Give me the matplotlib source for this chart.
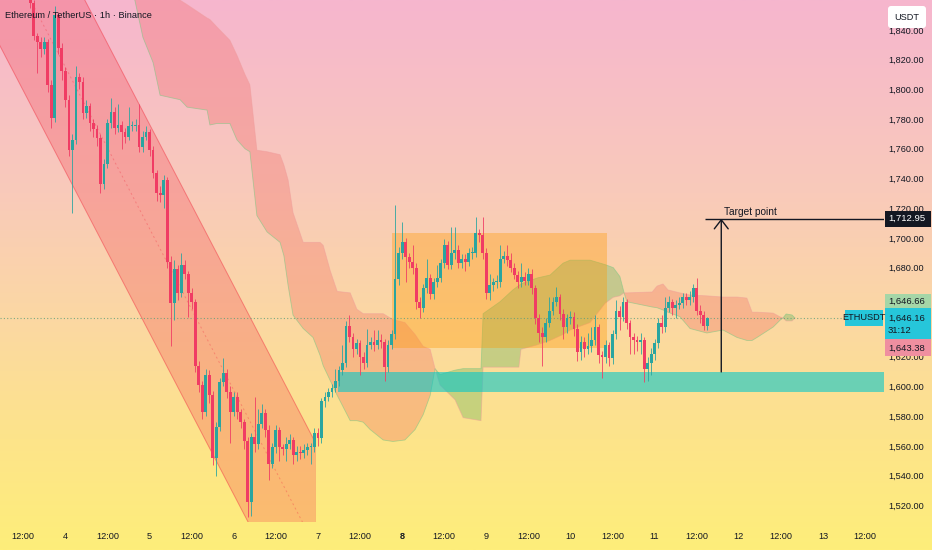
import numpy as np
import matplotlib
matplotlib.use('Agg')
import matplotlib.pyplot as plt
from matplotlib.patches import Rectangle, FancyBboxPatch, Polygon
from matplotlib.colors import LinearSegmentedColormap

plt.rcParams['font.family'] = ['Liberation Sans', 'DejaVu Sans']

TITLE = 'Ethereum / TetherUS · 1h · Binance'

# hourly candles, hour 0 = day 4 00:00
start_hour = -10
first_open = 1861
closes = [1858, 1836, 1832, 1827, 1832, 1803, 1781, 1850, 1828, 1812,
          1793, 1759, 1766, 1808, 1805, 1784, 1789, 1777, 1773, 1767,
          1736, 1750, 1777, 1785, 1774, 1776, 1771, 1768, 1775, 1775,
          1776, 1761, 1768, 1771, 1759, 1744, 1730, 1729, 1739, 1684,
          1656, 1679, 1663, 1682, 1676, 1663, 1657, 1614, 1601, 1583,
          1608, 1594, 1552, 1573, 1603, 1609, 1596, 1583, 1593, 1583,
          1576, 1563, 1522, 1566, 1561, 1575, 1582, 1571, 1548, 1559,
          1571, 1559, 1558, 1561, 1564, 1554, 1556, 1555, 1557, 1559,
          1559, 1569, 1565, 1590, 1593, 1596, 1599, 1604, 1611, 1616,
          1641, 1633, 1625, 1629, 1620, 1616, 1628, 1630, 1628, 1631,
          1630, 1613, 1628, 1635, 1672, 1690, 1697, 1687, 1684, 1680,
          1657, 1653, 1666, 1673, 1662, 1670, 1673, 1683, 1695, 1682,
          1690, 1692, 1683, 1686, 1684, 1690, 1690, 1703, 1702, 1690,
          1663, 1668, 1670, 1670, 1686, 1688, 1685, 1680, 1675, 1670,
          1674, 1671, 1676, 1666, 1646, 1636, 1633, 1643, 1651, 1657,
          1660, 1649, 1640, 1646, 1647, 1639, 1623, 1630, 1625, 1627,
          1631, 1640, 1621, 1620, 1628, 1619, 1635, 1651, 1647, 1657,
          1643, 1633, 1631, 1630, 1631, 1612, 1616, 1622, 1629, 1643,
          1640, 1653, 1657, 1653, 1655, 1656, 1660, 1658, 1660, 1666,
          1651, 1648, 1641, 1646.16]
highs = [1864, 1860, 1838, 1835, 1835, 1834, 1806, 1856, 1852, 1831,
         1815, 1796, 1770, 1816, 1811, 1808, 1793, 1791, 1780, 1776,
         1770, 1753, 1780, 1794, 1788, 1790, 1779, 1774, 1788, 1779,
         1780, 1790, 1772, 1775, 1773, 1762, 1746, 1735, 1742, 1741,
         1688, 1685, 1682, 1690, 1685, 1678, 1666, 1659, 1617, 1604,
         1612, 1611, 1597, 1576, 1606, 1619, 1612, 1600, 1596, 1596,
         1585, 1578, 1566, 1569, 1593, 1585, 1588, 1585, 1574, 1562,
         1574, 1573, 1561, 1566, 1568, 1566, 1560, 1560, 1561, 1562,
         1562, 1572, 1572, 1592, 1596, 1599, 1602, 1612, 1614, 1628,
         1644, 1648, 1636, 1632, 1631, 1623, 1639, 1633, 1638, 1638,
         1635, 1632, 1631, 1638, 1722, 1694, 1711, 1700, 1690, 1695,
         1683, 1660, 1669, 1686, 1676, 1673, 1682, 1686, 1699, 1698,
         1707, 1707, 1695, 1689, 1689, 1693, 1694, 1714, 1706, 1714,
         1693, 1676, 1673, 1675, 1695, 1691, 1695, 1690, 1683, 1678,
         1683, 1677, 1680, 1679, 1668, 1649, 1640, 1646, 1660, 1660,
         1667, 1662, 1652, 1649, 1651, 1650, 1642, 1634, 1633, 1636,
         1640, 1648, 1642, 1624, 1631, 1630, 1638, 1658, 1654, 1660,
         1659, 1645, 1636, 1634, 1636, 1633, 1620, 1626, 1632, 1646,
         1648, 1660, 1661, 1659, 1658, 1660, 1663, 1663, 1664, 1669,
         1673, 1655, 1651, 1646.66]
lows = [1855, 1833, 1811, 1822, 1824, 1798, 1774, 1778, 1824, 1806,
        1788, 1755, 1717, 1763, 1800, 1780, 1781, 1772, 1768, 1762,
        1730, 1733, 1747, 1774, 1770, 1771, 1760, 1764, 1766, 1772,
        1772, 1758, 1758, 1766, 1755, 1740, 1725, 1724, 1720, 1680,
        1627, 1645, 1658, 1660, 1672, 1647, 1652, 1610, 1596, 1578,
        1580, 1589, 1547, 1540, 1570, 1600, 1592, 1562, 1580, 1578,
        1572, 1558, 1512, 1513, 1556, 1558, 1572, 1566, 1537, 1545,
        1555, 1550, 1554, 1550, 1558, 1548, 1550, 1551, 1552, 1554,
        1548, 1556, 1560, 1562, 1586, 1590, 1593, 1596, 1600, 1608,
        1613, 1630, 1620, 1622, 1608, 1612, 1613, 1625, 1624, 1625,
        1626, 1604, 1610, 1625, 1632, 1668, 1686, 1670, 1680, 1676,
        1652, 1646, 1650, 1663, 1659, 1659, 1667, 1670, 1680, 1679,
        1679, 1686, 1680, 1680, 1678, 1681, 1686, 1687, 1697, 1686,
        1659, 1658, 1664, 1666, 1667, 1683, 1681, 1677, 1672, 1666,
        1667, 1668, 1668, 1662, 1642, 1630, 1614, 1630, 1640, 1648,
        1654, 1645, 1632, 1636, 1642, 1634, 1617, 1618, 1620, 1622,
        1623, 1628, 1616, 1606, 1616, 1614, 1615, 1632, 1638, 1644,
        1639, 1622, 1622, 1624, 1622, 1603, 1604, 1608, 1618, 1626,
        1636, 1637, 1650, 1648, 1646, 1652, 1653, 1655, 1655, 1657,
        1648, 1643, 1638, 1638]

# ichimoku cloud edges (hours, span A, span B)
cloud_h = [9.9, 19.8, 22.1, 25.0, 27.0, 32.7, 34.7, 40.4, 41.2, 43.2, 46.9, 48.9,
           51.2, 52.6, 54.6, 57.5, 61.2, 62.3, 63.5, 64.9, 67.8, 70.6, 72.6, 73.5,
           75.5, 77.5, 81.2, 83.1, 84.9, 86.9, 90.6, 93.4, 96.8, 99.7, 102.0, 104.0,
           105.4, 106.8, 111.1, 113.4, 118.5, 119.1, 123.9, 127.6, 129.3, 129.9,
           134.5, 138.2, 141.9, 143.9, 149.6, 153.9, 156.2, 158.1, 159.3, 160.1,
           167.3, 168.7, 170.4, 171.8, 175.2, 178.1, 182.9, 187.5, 191.5, 194.3,
           195.8, 197.2, 201.8, 203.8, 204.6, 205.5, 207.2, 208.0]
span_a = [1887, 1860, 1835, 1818, 1796, 1793, 1788, 1786, 1776, 1777, 1777, 1766,
          1760, 1758, 1715, 1704, 1697, 1688, 1668, 1648, 1639, 1633, 1621, 1614,
          1604, 1594, 1577, 1577, 1576, 1571, 1564, 1563, 1564, 1571, 1581, 1594,
          1612, 1608, 1611, 1612, 1612, 1649, 1657, 1665, 1668, 1669,
          1673, 1675, 1683, 1685, 1685, 1682, 1680, 1674, 1663, 1657,
          1653.5, 1653, 1651.5, 1650, 1647, 1639, 1636, 1638, 1633, 1631,
          1631, 1633, 1640, 1644.7, 1646.1, 1648.8, 1648.1, 1646.1]
span_b = [1921, 1887, 1880, 1874, 1867, 1860, 1857, 1848, 1847, 1842, 1833, 1823,
          1810, 1803, 1759, 1758, 1756, 1749, 1739, 1717, 1697, 1697, 1697, 1695,
          1678, 1664, 1663, 1652, 1649, 1649, 1649, 1645, 1643, 1635, 1627, 1625,
          1612, 1601, 1591, 1579, 1577, 1613, 1613, 1613, 1613, 1625,
          1628, 1631, 1635, 1638, 1643, 1656, 1660, 1661, 1663, 1663,
          1663.6, 1667.6, 1669, 1665, 1663, 1661.6, 1661, 1660.2, 1660.2, 1659.5,
          1650, 1650, 1649.4, 1646.8, 1646.1, 1644.1, 1644.1, 1646.1]

# descending channel: upper line endpoints and vertical width
channel_h = [-30, 71.2]
channel_top = [2021, 1562.6]
channel_width = 140.4

box_h = [93.2, 154.3]
box_p = [1625.9, 1703.3]
zone_start = 77.6
zone_p = [1596.3, 1609.8]

target_price = 1712.95
target_h = 187.0
target_line_start = 182.4
last_price = 1646.16
upper_label = 1646.66
lower_label = 1643.38
countdown = '31:12'

price_ticks = list(range(1520, 1841, 20))
hidden_ticks = [1640, 1660]  # covered by the price labels
time_ticks = list(range(-12, 229, 12))
time_labels = ['12:00', '4', '12:00', '5', '12:00', '6', '12:00', '7', '12:00', '8',
               '12:00', '9', '12:00', '10', '12:00', '11', '12:00', '12', '12:00', '13', '12:00']

W, H = 932, 550
fig = plt.figure(figsize=(W / 100, H / 100), dpi=100)

# background gradient
bg = fig.add_axes([0, 0, 1, 1], zorder=-5)
grad = LinearSegmentedColormap.from_list('bg', [
    (0.0, (246/255, 182/255, 206/255)),
    (0.35, (249/255, 202/255, 186/255)),
    (0.55, (251/255, 214/255, 166/255)),
    (0.8, (253/255, 228/255, 138/255)),
    (1.0, (254/255, 238/255, 122/255))])
bg.imshow(np.linspace(0, 1, 256).reshape(-1, 1), aspect='auto', cmap=grad,
          extent=[0, 1, 0, 1])
bg.axis('off')

ax = fig.add_axes([0, 28 / H, 884 / W, 522 / H])
ax.set_facecolor('none')
x_min, x_max = -18.65, 233.4
ax.set_xlim(x_min, x_max)
ax.set_ylim(1508.8, 1860.1)
for s in ax.spines.values():
    s.set_visible(False)

# channel
poly = [(channel_h[0], channel_top[0]), (channel_h[1], channel_top[1]),
        (channel_h[1], channel_top[1] - channel_width),
        (channel_h[0], channel_top[0] - channel_width)]
ax.add_patch(Polygon(poly, closed=True, facecolor='#f23645', alpha=0.26, lw=0, zorder=1))
ax.plot(channel_h, channel_top, color='#f23645', lw=0.7, alpha=0.5, zorder=1.2)
ax.plot(channel_h, [p - channel_width for p in channel_top], color='#f23645', lw=0.7,
        alpha=0.5, zorder=1.2)
ax.plot([channel_h[1], channel_h[1]], [channel_top[1], channel_top[1] - channel_width],
        color='#f23645', lw=0.7, alpha=0.25, zorder=1.2)
ax.plot(channel_h, [p - channel_width / 2 for p in channel_top], color='#f23645', lw=0.7,
        alpha=0.35, ls=(0, (2, 3)), zorder=1.2)

# ichimoku cloud
ch = np.array(cloud_h)
sa = np.array(span_a)
sb = np.array(span_b)
ax.fill_between(ch, sa, sb, where=sa >= sb, interpolate=True, color='#4caf50',
                alpha=0.3, lw=0, zorder=1.5)
ax.fill_between(ch, sa, sb, where=sa <= sb, interpolate=True, color='#ef5350',
                alpha=0.26, lw=0, zorder=1.5)
ax.plot(ch, sa, color='#81c784', lw=0.6, alpha=0.6, zorder=1.6)
ax.plot(ch, sb, color='#ef9a9a', lw=0.6, alpha=0.5, zorder=1.6)

# rectangles
ax.add_patch(Rectangle((box_h[0], box_p[0]), box_h[1] - box_h[0], box_p[1] - box_p[0],
                       facecolor='#ff9800', alpha=0.35, lw=0, zorder=2))
ax.add_patch(Rectangle((zone_start, zone_p[0]), x_max - zone_start, zone_p[1] - zone_p[0],
                       facecolor='#00c7cc', alpha=0.58, lw=0, zorder=2.1))

# last price dotted line
ax.axhline(last_price, color='#5f9f7a', lw=0.8, ls=(0, (1, 2)), alpha=0.8, zorder=2.5)

# candles
closes_a = np.array(closes, dtype=float)
opens_a = np.array([first_open] + closes[:-1], dtype=float)
hours = start_hour + np.arange(len(closes))
up = closes_a >= opens_a
cols = np.where(up, '#2aa5a0', '#f03c64')
ax.vlines(hours, lows, highs, colors=cols, lw=0.7, alpha=0.85, zorder=3)
bottoms = np.minimum(opens_a, closes_a)
heights = np.maximum(np.abs(closes_a - opens_a), 0.8)
ax.bar(hours, heights, bottom=bottoms, width=0.8, color=cols, lw=0, zorder=3.1)

# target
ax.hlines(target_price, target_line_start, x_max, color='#131722', lw=1, zorder=4)
ax.annotate('', xy=(target_h, target_price), xytext=(target_h, zone_p[1]),
            arrowprops=dict(arrowstyle='->,head_length=0.65,head_width=0.5',
                            color='#131722', lw=1, shrinkA=0, shrinkB=0), zorder=4)
ax.text(target_h + 0.7, target_price + 1.2, 'Target point', fontsize=7.3,
        color='#131722', va='bottom', ha='left', zorder=4)

# axes ticks
ax.yaxis.tick_right()
ax.set_yticks(price_ticks)
ax.set_yticklabels(['' if v in hidden_ticks else f'{v:,.2f}' for v in price_ticks])
ax.tick_params(axis='y', length=0, pad=3, labelsize=6.6, labelcolor='#131722')
ax.set_xticks(time_ticks)
ax.set_xticklabels(time_labels)
ax.tick_params(axis='x', length=0, pad=7.5, labelsize=6.6, labelcolor='#131722')
for lab in ax.get_xticklabels():
    if lab.get_text() == '8':
        lab.set_fontweight('bold')

# overlay in pixel coordinates for axis labels
ov = fig.add_axes([0, 0, 1, 1], zorder=10)
ov.set_xlim(0, W)
ov.set_ylim(H, 0)
ov.axis('off')


def py(p):
    return H - ax.transData.transform((0, p))[1]


ov.text(5, 15, TITLE, fontsize=6.7, color='#131722', va='center', ha='left')

ov.add_patch(FancyBboxPatch((888, 6), 38, 22, boxstyle='round,pad=0,rounding_size=3',
                            facecolor='white', edgecolor='none'))
ov.text(907, 17, 'USDT', fontsize=6.6, color='#131722', va='center', ha='center')

yt = py(target_price)
ov.add_patch(Rectangle((885, yt - 8), 46, 16, facecolor='#131722', lw=0))
ov.text(888, yt, f'{target_price:,.2f}', fontsize=6.8, color='white', va='center')

yl = py(last_price)
ov.add_patch(Rectangle((885, yl - 24), 46, 14.5, facecolor='#a5d6a7', lw=0))
ov.text(888, yl - 17, f'{upper_label:,.2f}', fontsize=6.8, color='#131722', va='center')
ov.add_patch(Rectangle((885, yl - 9.5), 46, 31, facecolor='#26c6da', lw=0))
ov.text(888, yl, f'{last_price:,.2f}', fontsize=6.8, color='#131722', va='center')
ov.text(888, yl + 13, countdown, fontsize=6.8, color='#131722', va='center')
ov.add_patch(Rectangle((885, yl + 21.5), 46, 17, facecolor='#ef8fa0', lw=0))
ov.text(888, yl + 30, f'{lower_label:,.2f}', fontsize=6.8, color='#131722', va='center')
ov.add_patch(Rectangle((845, yl - 8), 38, 16, facecolor='#26c6da', lw=0))
ov.text(864, yl, 'ETHUSDT', fontsize=6.6, color='#131722', va='center', ha='center')

fig.savefig('out.png', dpi=100)
